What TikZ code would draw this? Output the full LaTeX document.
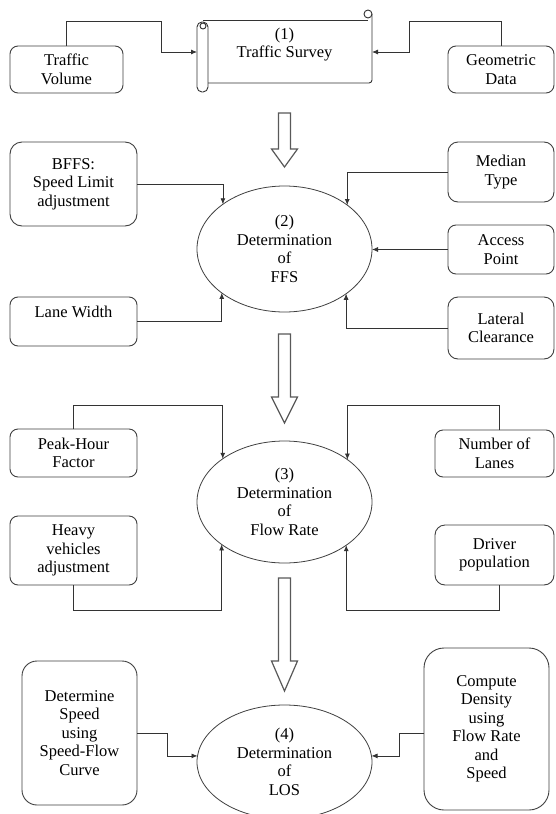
\documentclass[tikz,border=0pt]{standalone}
\usepackage{fontspec}
\setmainfont{Liberation Serif}
\usetikzlibrary{arrows.meta,shapes.geometric}
\tikzset{
  txt/.style={font=\fontsize{16.5}{18.5}\selectfont, align=center, text=black},
  box/.style={txt, draw=black!75, line width=0.9pt, rounded corners=8pt, inner sep=0pt, outer sep=0pt},
  oval/.style={txt, ellipse, draw=black!75, line width=0.8pt, inner sep=0pt, outer sep=0pt, minimum width=175pt},
  conn/.style={draw=black!80, line width=0.8pt, -{Latex[length=6pt,width=5pt]}},
  hollow/.style={draw=black!65, line width=1.2pt, fill=white},
  scrollline/.style={draw=black!80, line width=0.9pt}
}
\begin{document}
\begin{tikzpicture}[x=1pt,y=-1pt]
\fill[white] (0,0) rectangle (556,814);
\path[use as bounding box] (0,0) rectangle (556,814);

% scroll (1)
\draw[scrollline, rounded corners=5pt] (197,22) rectangle (208,92);
\draw[scrollline] (203,26) circle (3);
\draw[scrollline] (203,20) -- (368,20);
\draw[scrollline] (368,14) circle (4);
\draw[scrollline, rounded corners=3pt] (208,83) -- (372,83) -- (372,14);
\node[txt, inner sep=0pt, outer sep=0pt, minimum width=175pt, minimum height=63pt] (ts) at (284.5,52) {(1)\\Traffic Survey\\\mbox{}};

% left boxes
\node[box, minimum width=113pt, minimum height=47pt] (tv) at (66.5,69.5) {Traffic\\Volume};
\node[box, rounded corners=12pt, minimum width=127pt, minimum height=84pt] (bffs) at (73.5,184) {BFFS:\\Speed Limit\\adjustment};
\node[box, minimum width=127pt, minimum height=49pt] (lw) at (73.5,321.5) {Lane Width\\\mbox{}};
\node[box, minimum width=127pt, minimum height=48pt] (ph) at (73.5,453) {Peak-Hour\\Factor};
\node[box, minimum width=127pt, minimum height=69pt] (hv) at (73.5,550.5) {Heavy\\vehicles\\adjustment};
\node[box, rounded corners=15pt, minimum width=115pt, minimum height=144pt] (ds) at (79.5,733) {Determine\\Speed\\using\\Speed-Flow\\Curve};

% right boxes
\node[box, minimum width=106pt, minimum height=47pt] (gd) at (501,69.5) {Geometric\\Data};
\node[box, rounded corners=10pt, minimum width=106pt, minimum height=60pt] (mt) at (501,172) {Median\\Type};
\node[box, minimum width=106pt, minimum height=49pt] (ap) at (501,249.5) {Access\\Point};
\node[box, rounded corners=10pt, minimum width=106pt, minimum height=62pt] (lc) at (501,328) {Lateral\\Clearance};
\node[box, minimum width=119pt, minimum height=47pt] (nl) at (494.5,453.5) {Number of\\Lanes};
\node[box, rounded corners=10pt, minimum width=119pt, minimum height=60pt] (dp) at (494.5,555) {Driver\\population};
\node[box, rounded corners=20pt, minimum width=125pt, minimum height=162pt] (cd) at (486.5,729) {Compute\\Density\\using\\Flow Rate\\and\\Speed};

% ellipses
\node[oval, minimum height=126pt] (e2) at (284.5,249) {(2)\\Determination\\of\\FFS};
\node[oval, minimum height=122pt] (e3) at (284.5,502) {(3)\\Determination\\of\\Flow Rate};
\node[oval, minimum height=114pt] (e4) at (284.5,762) {(4)\\Determination\\of\\LOS};

% hollow arrows
\draw[hollow] (278.5,113) -- (278.5,149) -- (271.5,149) -- (284.5,167) -- (297.5,149) -- (290.5,149) -- (290.5,113) -- cycle;
\draw[hollow] (278.5,334) -- (278.5,397) -- (271.5,397) -- (284.5,423) -- (297.5,397) -- (290.5,397) -- (290.5,334) -- cycle;
\draw[hollow] (278.5,578) -- (278.5,661) -- (271.5,661) -- (284.5,691) -- (297.5,661) -- (290.5,661) -- (290.5,578) -- cycle;

% connectors
\draw[conn] (tv.north) -- ++(0,-25) -| ++(95,31) -- (ts.west);
\draw[conn] (gd.north) -- ++(0,-25) -| ++(-92,31) -- (ts.east);

\draw[conn] (bffs.east) -| (e2.144.8);
\draw[conn] (lw.east) -| (e2.215.2);
\draw[conn] (mt.west) -| (e2.35.2);
\draw[conn] (ap.west) -- (ap.west -| e2.east);
\draw[conn] (lc.west) -| (e2.324.8);

\draw[conn] (ph.north) -- ++(0,-24) -| (e3.145.7);
\draw[conn] ([xshift=4.5pt]nl.north) -- ++(0,-25) -| (e3.34.3);
\draw[conn] (hv.south) -- ++(0,25) -| (e3.214.3);
\draw[conn] ([xshift=4.5pt]dp.south) -- ++(0,25) -| (e3.325.7);

\draw[conn] (ds.east) -- ++(30,0) |- (e4.176);
\draw[conn] ([yshift=-4pt]cd.west) -- ++(-25,0) |- (e4.4);
\end{tikzpicture}
\end{document}
